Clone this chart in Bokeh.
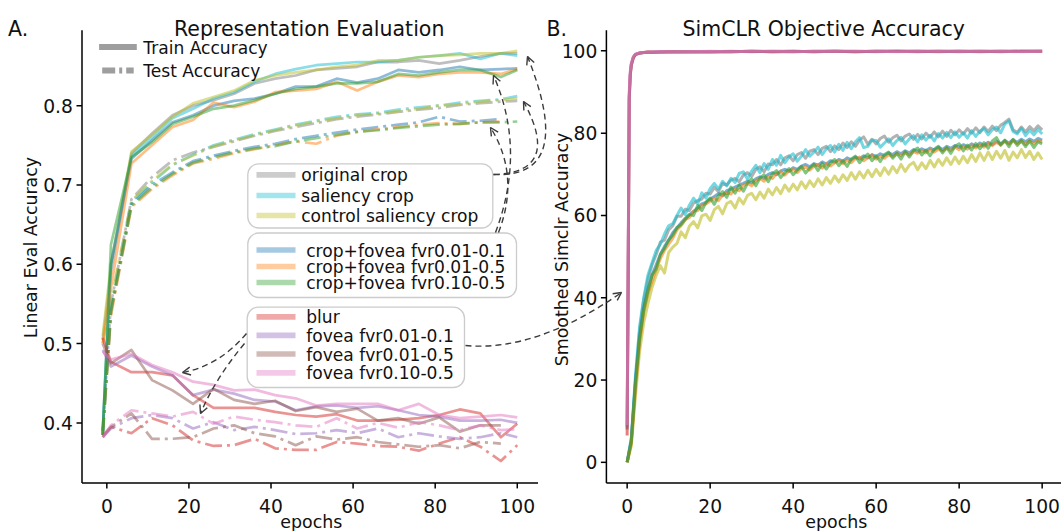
import math
from bokeh.plotting import figure
from bokeh.models import Range1d, Arrow, OpenHead, Quad
from bokeh.core.properties import value
from bokeh.embed import file_html
from bokeh.resources import INLINE

NaN = float("nan")
FONT = value("DejaVu Sans")

# ---------------------------------------------------------------- data
series_names = ["original crop", "saliency crop", "control saliency crop",
                "crop+fovea fvr0.01-0.1", "crop+fovea fvr0.01-0.5", "crop+fovea fvr0.10-0.5",
                "blur", "fovea fvr0.01-0.1", "fovea fvr0.01-0.5", "fovea fvr0.10-0.5"]
series_colors = ["#7f7f7f", "#17becf", "#bcbd22", "#1f77b4", "#ff7f0e", "#2ca02c",
                 "#d62728", "#9467bd", "#8c564b", "#e377c2"]

# Panel A: linear evaluation accuracy
eval_epochs = [-1, 1, 6, 11, 16, 21, 26, 31, 36, 41, 46, 51, 56, 61, 66, 71, 76, 81, 86, 91, 96, 100]

original_crop_train = [0.505, 0.59, 0.740, 0.765, 0.788, 0.800, 0.807, 0.815, 0.828, 0.834, 0.838,
                       0.845, 0.847, 0.849, 0.855, 0.855, 0.857, 0.853, 0.857, 0.862, 0.866, 0.866]
saliency_crop_train = [0.39, 0.60, 0.737, 0.760, 0.784, 0.796, 0.809, 0.817, 0.830, 0.840, 0.846,
                       0.851, 0.853, 0.855, 0.855, 0.857, 0.861, 0.863, 0.866, 0.859, 0.866, 0.863]
control_crop_train = [0.51, 0.60, 0.742, 0.763, 0.786, 0.803, 0.811, 0.819, 0.832, 0.838, 0.842,
                      0.845, 0.849, 0.851, 0.857, 0.857, 0.861, 0.863, 0.864, 0.866, 0.866, 0.869]
cf_001_01_train = [0.39, 0.60, 0.733, 0.756, 0.779, 0.788, 0.800, 0.806, 0.809, 0.815, 0.824,
                   0.824, 0.834, 0.829, 0.834, 0.845, 0.842, 0.845, 0.849, 0.845, 0.846, 0.847]
cf_001_05_train = [0.50, 0.57, 0.727, 0.750, 0.773, 0.782, 0.804, 0.798, 0.805, 0.817, 0.819,
                   0.821, 0.830, 0.819, 0.830, 0.838, 0.836, 0.840, 0.842, 0.842, 0.840, 0.846]
cf_010_05_train = [0.385, 0.625, 0.735, 0.754, 0.777, 0.786, 0.796, 0.800, 0.807, 0.815, 0.821,
                   0.824, 0.828, 0.828, 0.830, 0.840, 0.838, 0.842, 0.845, 0.845, 0.836, 0.845]
blur_train = [0.507, 0.477, 0.464, 0.464, 0.460, 0.435, 0.419, 0.419, 0.419, 0.414, 0.410,
              0.408, 0.411, 0.403, 0.403, 0.404, 0.406, 0.410, 0.417, 0.412, 0.382, 0.399]
fovea_001_01_train = [0.492, 0.471, 0.485, 0.471, 0.460, 0.435, 0.442, 0.437, 0.429, 0.427, 0.416,
                      0.421, 0.422, 0.419, 0.421, 0.416, 0.410, 0.408, 0.403, 0.403, 0.404, 0.400]
fovea_001_05_train = [0.500, 0.475, 0.492, 0.454, 0.441, 0.424, 0.443, 0.429, 0.424, 0.428, 0.415,
                      0.420, 0.414, 0.418, 0.403, 0.406, 0.399, 0.407, 0.389, 0.397, 0.397, NaN]
fovea_010_05_train = [0.490, 0.480, 0.487, 0.473, 0.464, 0.452, 0.448, 0.441, 0.442, 0.435, 0.431,
                      0.422, 0.424, 0.424, 0.424, 0.416, 0.424, 0.410, 0.406, 0.408, 0.410, 0.407]

original_crop_test = [0.39, 0.55, 0.682, 0.710, 0.731, 0.741, 0.748, 0.755, 0.762, 0.768, 0.773,
                      0.778, 0.783, 0.786, 0.789, 0.792, 0.795, 0.797, 0.801, 0.803, 0.805, 0.806]
saliency_crop_test = [0.385, 0.545, 0.679, 0.703, 0.725, 0.738, 0.750, 0.757, 0.764, 0.770, 0.776,
                      0.781, 0.786, 0.789, 0.791, 0.795, 0.798, 0.800, 0.804, 0.806, 0.808, 0.812]
control_crop_test = [0.50, 0.555, 0.680, 0.705, 0.726, 0.737, 0.749, 0.756, 0.763, 0.769, 0.775,
                     0.780, 0.784, 0.788, 0.790, 0.793, 0.796, 0.800, 0.802, 0.805, 0.807, 0.809]
cf_001_01_test = [0.385, 0.54, 0.676, 0.700, 0.716, 0.730, 0.737, 0.743, 0.748, 0.752, 0.758,
                  0.762, 0.766, 0.770, 0.773, 0.776, 0.779, 0.786, 0.780, 0.781, 0.783, NaN]
cf_001_05_test = [0.385, 0.535, 0.672, 0.695, 0.712, 0.727, 0.733, 0.740, 0.745, 0.750, 0.755,
                  0.752, 0.762, 0.767, 0.770, 0.773, 0.776, 0.778, 0.777, 0.779, 0.780, NaN]
cf_010_05_test = [0.385, 0.54, 0.674, 0.697, 0.714, 0.728, 0.735, 0.741, 0.746, 0.749, 0.755,
                  0.759, 0.763, 0.767, 0.769, 0.772, 0.774, 0.776, 0.777, 0.779, 0.779, 0.780]
blur_test = [0.382, 0.395, 0.387, 0.406, 0.397, 0.378, 0.371, 0.372, 0.380, 0.368, 0.366,
             0.366, 0.376, 0.374, 0.371, 0.370, 0.365, 0.374, 0.382, 0.370, 0.352, 0.372]
fovea_001_01_test = [0.382, 0.393, 0.406, 0.410, 0.406, 0.393, 0.401, 0.391, 0.395, 0.391, 0.386,
                     0.387, 0.391, 0.387, 0.393, 0.382, 0.387, 0.383, 0.380, 0.382, 0.387, 0.382]
fovea_001_05_test = [0.384, 0.395, 0.412, 0.380, 0.380, 0.382, 0.393, 0.397, 0.387, 0.383, 0.372,
                     0.383, 0.379, 0.382, 0.376, 0.373, 0.370, 0.372, 0.368, 0.376, 0.374, NaN]
fovea_010_05_test = [0.382, 0.397, 0.416, 0.412, 0.408, 0.414, 0.399, 0.408, 0.404, 0.401, 0.397,
                     0.395, 0.406, 0.393, 0.400, 0.394, 0.401, 0.397, 0.391, 0.397, 0.391, 0.392]

train_series = [original_crop_train, saliency_crop_train, control_crop_train,
                cf_001_01_train, cf_001_05_train, cf_010_05_train,
                blur_train, fovea_001_01_train, fovea_001_05_train, fovea_010_05_train]
test_series = [original_crop_test, saliency_crop_test, control_crop_test,
               cf_001_01_test, cf_001_05_test, cf_010_05_test,
               blur_test, fovea_001_01_test, fovea_001_05_test, fovea_010_05_test]

# Panel B: smoothed SimCLR accuracy, one value per epoch 0..100 for the crop runs
original_crop_simclr = [
    0, 5.5, 20, 32, 39.5, 44.5, 48, 50.5, 53.5, 54,
    56.5, 57.5, 59.8, 59.8, 61.5, 61.2, 63, 63.6, 64, 65.4,
    65.2, 66.8, 65.8, 67.8, 67.4, 68.6, 69, 68.2, 69.8, 70.4,
    69.5, 71.2, 71.8, 70.6, 72.5, 72.3, 73.6, 72.3, 74, 74.5,
    73.3, 74.8, 75.3, 73.9, 75.6, 76, 74.8, 76.3, 76.8, 75.5,
    76.9, 76, 77.6, 76.5, 77.9, 76.8, 78.3, 79.1, 77.3, 78.5,
    77.4, 78.7, 79.3, 77.8, 78.9, 79.5, 78.1, 79.3, 79.8, 78.5,
    79.7, 78.6, 80, 79, 80.3, 79.1, 80.5, 79.2, 80.7, 79.6,
    80.8, 79.8, 81.1, 80, 81.3, 80.1, 81.5, 80.4, 81.7, 80.6,
    81.9, 82.6, 83.4, 80.8, 80.2, 81.5, 80.3, 81.6, 80.6, 81.8, 80.8]
saliency_crop_simclr = [
    0, 6, 21, 33, 40, 45.5, 48.5, 51.5, 53, 55.5,
    57.5, 58, 60, 61.8, 60.2, 62.5, 64.2, 62.8, 65.5, 64.2,
    66.5, 67.8, 66.4, 68.3, 67.2, 69, 68, 70.2, 70.6, 68.8,
    70.8, 72.2, 70.4, 72.6, 71.2, 73.6, 72.2, 74.6, 72.8, 74.2,
    75, 73.2, 74.4, 76, 74.4, 75.4, 76.6, 74.8, 76.2, 77,
    75.4, 77.3, 75.8, 77.8, 76.2, 77.9, 78.9, 76.5, 76.8, 78.3,
    78.2, 76.6, 77.6, 78.6, 77, 78.2, 79, 77.4, 78.6, 79.4,
    77.9, 79.6, 78.3, 79.5, 78.1, 79.9, 78.8, 80.2, 78.9, 80.3,
    79, 80.1, 78.8, 80.6, 79.2, 80.5, 81.1, 79.6, 80.8, 81.5,
    80.1, 82.2, 83, 80.4, 79.8, 81.2, 79.4, 80.7, 79.6, 80.9, 79.8]
control_crop_simclr = [
    0, 4, 16, 27, 34, 38.5, 42.5, 45.5, 47.8, 46,
    51, 52.3, 53.2, 56, 54.6, 57.4, 58.5, 57, 59.9, 60.3,
    58.8, 61.4, 62.2, 60.4, 62.9, 63.4, 61.8, 64.2, 62.8, 64.9,
    65.4, 63.8, 65.7, 64.2, 66.4, 65, 66.8, 65.3, 67.4, 65.9,
    67.6, 66.2, 68.2, 66.6, 68.4, 67, 68.9, 67.4, 69.2, 67.8,
    69.6, 68.1, 69.9, 68.5, 70.4, 68.8, 70.6, 69.1, 71, 69.4,
    71.2, 69.7, 71.6, 70, 71.9, 70.4, 72.4, 70.7, 72.2, 72.9,
    71.1, 72.8, 71.4, 73.4, 71.8, 73.6, 72.2, 74, 72.4, 74.2,
    72.6, 74.4, 72.8, 74.8, 73.1, 75.2, 73.4, 75.4, 73.6, 75.6,
    73.9, 75.8, 73.4, 75.4, 74, 76, 74.1, 75.6, 73.6, 75.2, 73.6]
cf_001_01_simclr = [
    0, 5.2, 19.5, 30.5, 37.5, 42, 45.5, 48, 50.5, 52.5,
    54, 55.8, 57, 58.2, 59.3, 60.2, 61, 61.8, 62.8, 63.2,
    64, 64.6, 65.3, 64.8, 66, 66.4, 66.9, 67.4, 67.8, 68.3,
    67.9, 68.9, 69.4, 69, 70, 70.4, 69.9, 70.8, 71.2, 70.7,
    71.6, 71.2, 72, 72.4, 71.8, 72.6, 72.2, 73, 72.5, 73.3,
    72.9, 73.6, 73.2, 74, 73.5, 74.2, 73.8, 74.5, 74, 74.8,
    74.3, 75, 74.5, 75.2, 74.8, 75.5, 75, 75.7, 75.2, 76,
    75.5, 76.2, 75.7, 76.4, 75.9, 76.6, 76, 76.8, 76.3, 77,
    76.5, 77.2, 76.7, 77.4, 76.8, 77.6, 77, 77.8, 77.2, 78,
    77.4, 78.2, 77.6, 78.4, 77.8, 78.5, 77.9, 78.6, 78, 78.7, 78.3]
cf_001_05_simclr = [
    0, 4.5, 18, 29, 36.5, 41, 44, 47, 49.5, 51.5,
    53, 54.5, 56.5, 57.5, 59, 59.5, 61, 61.2, 62.5, 62.8,
    63.5, 64.2, 63.6, 65, 65.6, 65.2, 66.5, 66, 67.3, 67.8,
    67.2, 68.4, 69, 68.3, 69.5, 69, 70.2, 70.6, 69.8, 70.8,
    71.2, 70.4, 71.4, 71.8, 71, 72, 72.4, 71.5, 72.6, 72,
    72.8, 73.4, 72.6, 73.5, 72.8, 73.8, 74.2, 73.3, 74, 74.6,
    73.7, 74.4, 73.9, 74.8, 74.3, 75, 74.6, 75.3, 74.7, 75.5,
    75.1, 75.8, 75.2, 76, 75.4, 76.1, 75.6, 76.4, 75.8, 76.6,
    76, 76.8, 76.1, 77, 76.4, 77.2, 76.6, 77.5, 77, 77.8,
    77.1, 78, 77.3, 78.2, 77.4, 78, 77.2, 78.1, 77.5, 78.2, 77.8]
cf_010_05_simclr = [
    0, 5, 19, 30, 37, 41.5, 45.5, 47, 50.5, 52,
    54, 55.2, 57, 57.8, 59, 60.2, 60, 62.4, 61.2, 63.2,
    64.2, 62.7, 64.8, 65.8, 64.4, 66.9, 65.4, 67.3, 65.9, 67.8,
    68.9, 67.2, 69.1, 69.9, 68.2, 70.1, 70.9, 69.2, 70.4, 71.4,
    69.9, 71, 71.9, 70.3, 71.5, 72.4, 70.9, 72.6, 71.3, 72.8,
    73.6, 72.1, 73.3, 71.9, 73.7, 74.4, 72.8, 74.1, 74.9, 73.3,
    74.5, 73.1, 74.8, 75.4, 73.9, 75.1, 73.7, 75.5, 74.2, 75.7,
    76.4, 74.7, 75.9, 74.5, 76.1, 76.8, 75.2, 76.5, 75.1, 76.8,
    77.4, 75.7, 77.1, 75.9, 77.5, 76.2, 77.7, 76.3, 78.1, 78.9,
    77.1, 78.3, 76.7, 78.5, 77, 78.2, 76.7, 78.1, 76.5, 77.9, 77.4]

# blur / fovea runs jump to ~100 almost immediately
fast_epochs = [0, 0.25, 0.5, 0.75, 1, 1.5, 2, 3, 4, 5, 6, 8, 10, 15, 20, 25, 30, 35, 40, 45,
               50, 55, 60, 65, 70, 75, 80, 85, 90, 95, 100]
blur_simclr = [6.5, 45, 88, 94, 96.5, 98.3, 99.1, 99.5, 99.6, 99.7, 99.6, 99.7, 99.8, 99.7, 99.8,
               99.8, 99.9, 99.8, 99.9, 99.8, 99.9, 99.8, 99.9, 99.9, 99.8, 99.9, 99.9, 99.8, 99.9, 99.9, 99.9]
fovea_001_01_simclr = [8.5, 48, 89, 94.5, 96.8, 98.5, 99.2, 99.5, 99.6, 99.6, 99.7, 99.8, 99.7, 99.8, 99.8,
                       99.9, 99.8, 99.9, 99.9, 99.8, 99.9, 99.9, 99.8, 99.9, 99.9, 99.9, 99.8, 99.9, 99.9, 99.9, 99.9]
fovea_001_05_simclr = [8.0, 46, 88.5, 94.2, 96.6, 98.4, 99.1, 99.4, 99.6, 99.7, 99.7, 99.7, 99.8, 99.8, 99.7,
                       99.8, 99.9, 99.8, 99.8, 99.9, 99.9, 99.8, 99.9, 99.9, 99.9, 99.8, 99.9, 99.9, 99.8, 99.9, 99.9]
fovea_010_05_simclr = [9.0, 50, 90, 95, 97, 98.6, 99.2, 99.5, 99.6, 99.7, 99.7, 99.8, 99.8, 99.8, 99.9,
                       99.8, 99.9, 99.9, 99.8, 99.9, 99.9, 99.9, 99.9, 99.8, 99.9, 99.9, 99.9, 99.9, 99.9, 99.8, 99.9]

simclr_series = [original_crop_simclr, saliency_crop_simclr, control_crop_simclr,
                 cf_001_01_simclr, cf_001_05_simclr, cf_010_05_simclr,
                 blur_simclr, fovea_001_01_simclr, fovea_001_05_simclr, fovea_010_05_simclr]

a_xticks = [0, 20, 40, 60, 80, 100]
a_xtick_labels = ["0", "20", "40", "60", "80", "100"]
a_yticks = [0.4, 0.5, 0.6, 0.7, 0.8]
a_ytick_labels = ["0.4", "0.5", "0.6", "0.7", "0.8"]
b_xticks = [0, 20, 40, 60, 80, 100]
b_xtick_labels = ["0", "20", "40", "60", "80", "100"]
b_yticks = [0, 20, 40, 60, 80, 100]
b_ytick_labels = ["0", "20", "40", "60", "80", "100"]

# ---------------------------------------------------------------- layout (picture pixels)
W, H = 1061, 531
CAN_X = (0, W)
CAN_Y = (H, 0)

A_XLIM, A_XPIX = (-6.05, 105.05), (81.5, 537.5)
A_YLIM, A_YPIX = (0.3244, 0.8950), (482.4, 29.8)
B_XLIM, B_XPIX = (-5.0, 105.0), (605.9, 1062.4)
B_YLIM, B_YPIX = (-5.0, 105.0), (482.4, 29.8)


def canvas_range(lim, pix, canvas):
    k = (lim[1] - lim[0]) / (pix[1] - pix[0])
    return Range1d(start=lim[0] + (canvas[0] - pix[0]) * k, end=lim[0] + (canvas[1] - pix[0]) * k)


p = figure(width=W, height=H, x_range=Range1d(*CAN_X), y_range=Range1d(*CAN_Y),
           output_backend="svg", toolbar_location=None, min_border=0,
           x_axis_location=None, y_axis_location=None, title=None)
p.outline_line_color = None
p.grid.visible = False
p.background_fill_color = "white"
p.border_fill_color = "white"
p.extra_x_ranges = {"ax": canvas_range(A_XLIM, A_XPIX, CAN_X), "bx": canvas_range(B_XLIM, B_XPIX, CAN_X)}
p.extra_y_ranges = {"ay": canvas_range(A_YLIM, A_YPIX, CAN_Y), "by": canvas_range(B_YLIM, B_YPIX, CAN_Y)}

TICK_FS = "18.7px"
LABEL_FS = "17.4px"
LEG_FS = "17.1px"
TITLE_FS = "20.5px"
TICK_LEN = 5.5


def text(x, y, s, size, align="left", baseline="alphabetic", angle=0.0, xr="default", yr="default"):
    p.text(x=x, y=y, text=s, angle=angle, text_font=FONT, text_font_size=size,
           text_align=align, text_baseline=baseline, text_color="#111111",
           x_range_name=xr, y_range_name=yr)


# ---------------------------------------------------------------- panel A lines
for tr, te, col in zip(train_series, test_series, series_colors):
    p.line(eval_epochs, tr, x_range_name="ax", y_range_name="ay", line_color=col,
           line_alpha=0.5, line_width=2.7, line_join="round")
    p.line(eval_epochs, te, x_range_name="ax", y_range_name="ay", line_color=col,
           line_alpha=0.5, line_width=2.7, line_join="round", line_dash="17 5 3 5")

# ---------------------------------------------------------------- panel B lines
for vals, col in zip(simclr_series, series_colors):
    xs = list(range(len(vals))) if len(vals) == 101 else fast_epochs
    p.line(xs, vals, x_range_name="bx", y_range_name="by", line_color=col,
           line_alpha=0.6, line_width=3, line_join="round")

# ---------------------------------------------------------------- axes (spines, ticks, labels)
for xr, yr, xlim, ylim, xpix, ypix, xt, xtl, yt, ytl in [
        ("ax", "ay", A_XLIM, A_YLIM, A_XPIX, A_YPIX, a_xticks, a_xtick_labels, a_yticks, a_ytick_labels),
        ("bx", "by", B_XLIM, B_YLIM, B_XPIX, B_YPIX, b_xticks, b_xtick_labels, b_yticks, b_ytick_labels)]:
    bottom, left = ypix[0], xpix[0]
    p.segment(x0=[xlim[0]], x1=[xlim[1]], y0=[bottom], y1=[bottom], x_range_name=xr,
              line_color="black", line_width=1.5)
    p.segment(x0=[left], x1=[left], y0=[ylim[0]], y1=[ylim[1]], y_range_name=yr,
              line_color="black", line_width=1.5)
    p.segment(x0=xt, x1=xt, y0=[bottom] * len(xt), y1=[bottom + TICK_LEN] * len(xt),
              x_range_name=xr, line_color="black", line_width=1.5)
    p.segment(x0=[left - TICK_LEN] * len(yt), x1=[left] * len(yt), y0=yt, y1=yt,
              y_range_name=yr, line_color="black", line_width=1.5)
    text(xt, [505.5] * len(xt), xtl, TICK_FS, align="center", xr=xr)
    text([left - TICK_LEN - 3.6] * len(yt), yt, ytl, TICK_FS, align="right", baseline="middle", yr=yr)

# axis labels and titles
text([310.8, 835.8], [521.0, 521.0], ["epochs", "epochs"], LABEL_FS, align="center")
text([30.0], [247.0], ["Linear Eval Accuracy"], LABEL_FS, align="center", baseline="middle", angle=math.pi / 2)
text([561.0], [249.0], ["Smoothed Simclr Accuracy"], LABEL_FS, align="center", baseline="middle", angle=math.pi / 2)
text([308.7, 823.2], [28.3, 28.3], ["Representation Evaluation", "SimCLR Objective Accuracy"], TITLE_FS, align="center")
text([7.6, 546.0], [28.3, 28.3], ["A.", "B."], TITLE_FS)

# ---------------------------------------------------------------- legends
# Train / Test style legend (no frame)
p.segment(x0=[101.7], x1=[133.2], y0=[46.5], y1=[46.5], line_color="#9e9e9e", line_width=6.2, line_cap="square")
p.segment(x0=[101.7], x1=[133.2], y0=[70.0], y1=[70.0], line_color="#9e9e9e", line_width=6.2,
          line_dash="13 4 3 4")
text([142.7, 142.7], [47.0, 70.5], ["Train Accuracy", "Test Accuracy"], LEG_FS, baseline="middle")

# framed legends (rounded boxes)
qkw = {"border_radius": 11} if "border_radius" in Quad.properties() else {}
p.quad(left=[247.3, 247.3, 246.7], right=[492.3, 516.0, 464.0], top=[163.3, 232.5, 306.7],
       bottom=[227.5, 297.0, 387.0], fill_color="white", fill_alpha=0.8,
       line_color="#cccccc", line_width=1.3, **qkw)

legend_groups = [
    ([0, 1, 2], [174.3, 195.0, 215.0], 300.7),
    ([3, 4, 5], [249.5, 266.0, 282.0], 305.7),
    ([6, 7, 8, 9], [316.3, 334.8, 353.5, 372.3], 305.7),
]
for idx, ys, tx in legend_groups:
    n = len(idx)
    p.segment(x0=[256.0] * n, x1=[295.0] * n, y0=ys, y1=ys,
              line_color=[series_colors[i] for i in idx], line_alpha=0.4, line_width=5.7)
    text([tx] * n, [y + 0.5 for y in ys], [series_names[i] for i in idx], LEG_FS, baseline="middle")

# ---------------------------------------------------------------- dashed annotation arrows
ARROW_COL = "#3c3c3c"
arrows = [  # (start, control, tip) in picture pixels
    ((493, 174), (576, 178), (527, 56)),
    ((493, 174), (562, 172), (523, 101)),
    ((495, 232), (526, 150), (493, 75)),
    ((498, 232), (520, 175), (490, 127)),
    ((246, 333), (218.5, 365.5), (182, 372)),
    ((244, 343), (214.5, 378.5), (200, 413)),
    ((465, 345), (535.5, 351.5), (621, 292)),
]
p.quadratic(x0=[a[0][0] for a in arrows], y0=[a[0][1] for a in arrows],
            x1=[a[2][0] for a in arrows], y1=[a[2][1] for a in arrows],
            cx=[a[1][0] for a in arrows], cy=[a[1][1] for a in arrows],
            line_color=ARROW_COL, line_width=1.4, line_dash="6 4")
for s, c, t in arrows:
    p.add_layout(Arrow(end=OpenHead(size=8, line_color=ARROW_COL, line_width=1.4),
                       x_start=c[0], y_start=c[1], x_end=t[0], y_end=t[1],
                       line_alpha=0.0, line_width=0.1))

open("out.html", "w").write(file_html(p, INLINE))
